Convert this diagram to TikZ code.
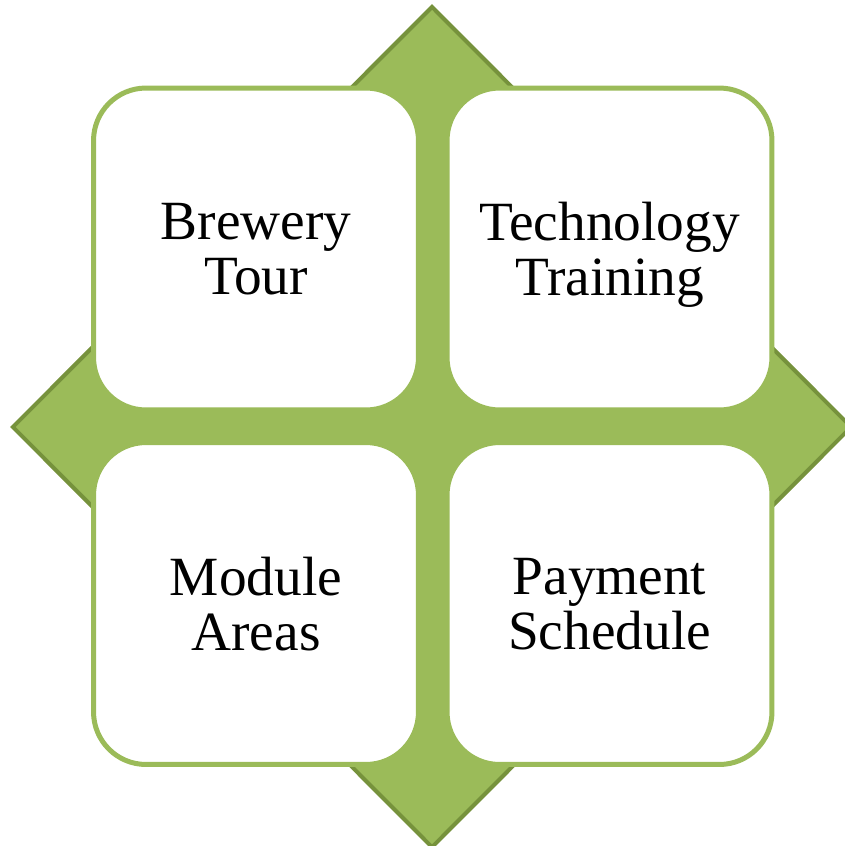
\documentclass[tikz,border=0pt]{standalone}
\usepackage{xcolor}
\usepackage{tikz}
\usepackage{fontspec}
\setmainfont{Liberation Serif}
\usetikzlibrary{shapes.geometric}

\definecolor{leafgreen}{HTML}{9BBB59}
\definecolor{darkleaf}{HTML}{76923C}

\begin{document}
\begin{tikzpicture}[x=0.02cm, y=-0.02cm]
          \useasboundingbox (0,0) rectangle (845,846);
          \tikzstyle{backdrop}=[diamond, draw=darkleaf, fill=leafgreen, line width=0.08cm, inner sep=0pt, minimum width=16.8cm, minimum height=16.84cm]
          \tikzstyle{card}=[rectangle, rounded corners=1.05cm, draw=leafgreen, fill=white, line width=0.1cm, minimum width=6.5cm, minimum height=6.44cm, align=center, text depth=0pt, font=\fontsize{31.5}{31.2}\selectfont]
          \node[backdrop] (Back) at (432,427) {};
          \node[card] (Brewery) at (256,249) {Brewery\\Tour};
          \node[card] (Tech) at (609.5,249) {Technology\\Training};
          \node[card] (Module) at (256,603.5) {Module\\Areas};
          \node[card] (Pay) at (609.5,603.5) {Payment\\Schedule};
        \end{tikzpicture}
\end{document}
